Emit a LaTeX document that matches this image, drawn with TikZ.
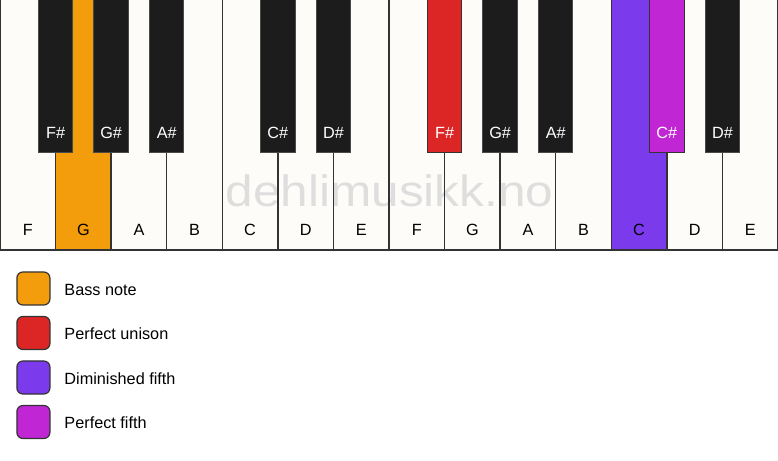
\documentclass[tikz,border=0pt]{standalone}
\usepackage{fontspec}
\setmainfont{Liberation Sans}
\definecolor{keywhite}{HTML}{FDFCF8}
\definecolor{keyblack}{HTML}{1C1C1C}
\definecolor{keyline}{HTML}{333333}
\definecolor{blackline}{HTML}{4A4A4A}
\definecolor{bass}{HTML}{F39C0C}
\definecolor{unison}{HTML}{DC2626}
\definecolor{dimfifth}{HTML}{7C3AED}
\definecolor{perffifth}{HTML}{C026D3}
\definecolor{wmgray}{HTML}{DEDEDE}
\begin{document}
\begin{tikzpicture}[x=1bp,y=-1bp,
  lbl/.style={font=\fontsize{16.3}{19}\selectfont, inner sep=0pt, anchor=base},
  whitelabel/.style={lbl, text=black},
  blacklabel/.style={lbl, text=white},
  legendbox/.style={draw=keyline, line width=1.2bp, rounded corners=6bp, minimum width=33bp, minimum height=33bp, inner sep=0pt},
  legendtext/.style={font=\fontsize{16.3}{19}\selectfont, inner sep=0pt, anchor=base west, text=black}]
\useasboundingbox (0,0) rectangle (778,461);
\fill[white] (0,0) rectangle (778,461);
\def\W{55.5714}
% white keys
\foreach \i/\n/\c in {0/F/keywhite,1/G/bass,2/A/keywhite,3/B/keywhite,4/C/keywhite,5/D/keywhite,6/E/keywhite,7/F/keywhite,8/G/keywhite,9/A/keywhite,10/B/keywhite,11/C/dimfifth,12/D/keywhite,13/E/keywhite}{
  \fill[\c] (\i*\W,0) rectangle ({(\i+1)*\W},250);
  \node[whitelabel] (w\i) at ({(\i+0.5)*\W},235.7) {\n};
}
% watermark
\node[font=\fontsize{44}{44}\selectfont, text=wmgray, inner sep=0pt, anchor=base, xscale=1.13] (wm) at (389.5,207) {dehlimusikk.no};
% white key borders
\foreach \i in {1,...,13}{
  \draw[keyline, line width=1.3bp] (\i*\W,0) -- (\i*\W,250);
}
\draw[keyline, line width=1.5bp] (0,0) -- (0,250) -- (778,250) -- (778,0);
% black keys
\foreach \b/\n/\c/\d in {1/F\#/keyblack/blackline,2/G\#/keyblack/blackline,3/A\#/keyblack/blackline,5/C\#/keyblack/blackline,6/D\#/keyblack/blackline,8/F\#/unison/keyline,9/G\#/keyblack/blackline,10/A\#/keyblack/blackline,12/C\#/perffifth/keyline,13/D\#/keyblack/blackline}{
  \filldraw[fill=\c, draw=\d, line width=1bp] ({\b*\W-17.2},-1) rectangle ({\b*\W+17.2},153);
  \node[blacklabel] (b\b) at (\b*\W,139) {\n};
}
% legend
\node[legendbox, fill=bass] (l1) at (33.4,288.5) {};
\node[legendbox, fill=unison] (l2) at (33.4,333) {};
\node[legendbox, fill=dimfifth] (l3) at (33.4,377.5) {};
\node[legendbox, fill=perffifth] (l4) at (33.4,422) {};
\node[legendtext] (t1) at (64.3,295.7) {Bass note};
\node[legendtext] (t2) at (64.3,340) {Perfect unison};
\node[legendtext] (t3) at (64.3,384.2) {Diminished fifth};
\node[legendtext] (t4) at (64.3,428.4) {Perfect fifth};
\end{tikzpicture}
\end{document}
